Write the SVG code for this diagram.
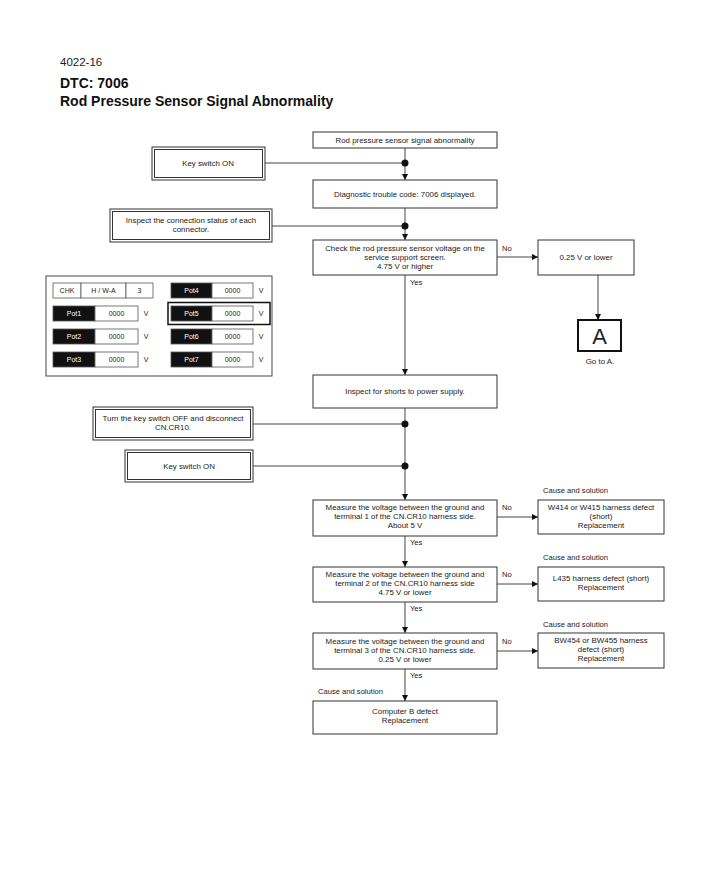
<svg xmlns="http://www.w3.org/2000/svg" width="707" height="871" viewBox="0 0 707 871">
<defs>
<style>
text{font-family:"Liberation Sans",Arial,sans-serif;fill:#222}
.t{font-size:7.9px;text-anchor:middle}
.l{font-size:7.6px}
.h{font-size:11.5px}
.b{font-size:14px;font-weight:bold;fill:#111}
.box{fill:#fff;stroke:#333;stroke-width:1}
.dbl{fill:none;stroke:#333;stroke-width:1}
.ln{fill:none;stroke:#444;stroke-width:1}
.dot{fill:#111}
.blk{fill:#111;stroke:#555;stroke-width:0.8}
.wht{fill:#fff;stroke:#555;stroke-width:0.8}
.tw{font-size:7px;text-anchor:middle;fill:#fff}
.tb{font-size:7px;text-anchor:middle}
</style>
<marker id="ah" viewBox="0 0 10 10" refX="10" refY="5" markerWidth="6" markerHeight="6" orient="auto" markerUnits="userSpaceOnUse">
<path d="M0,0L10,5L0,10z" fill="#111"/>
</marker>
</defs>
<rect width="707" height="871" fill="#fff"/>

<g id="header">
<text class="h" x="60" y="66">4022-16</text>
<text class="b" x="60" y="88">DTC: 7006</text>
<text class="b" x="60" y="106">Rod Pressure Sensor Signal Abnormality</text>
</g>

<g id="connectors">
<line class="ln" x1="405" y1="148" x2="405" y2="180" marker-end="url(#ah)"/>
<line class="ln" x1="265" y1="163" x2="405" y2="163"/>
<circle class="dot" cx="405" cy="163" r="3.5"/>
<line class="ln" x1="405" y1="208" x2="405" y2="240" marker-end="url(#ah)"/>
<line class="ln" x1="272" y1="226" x2="405" y2="226"/>
<circle class="dot" cx="405" cy="226" r="3.5"/>
<line class="ln" x1="497" y1="257" x2="538" y2="257" marker-end="url(#ah)"/>
<line class="ln" x1="598" y1="275" x2="598" y2="320" marker-end="url(#ah)"/>
<line class="ln" x1="405" y1="275" x2="405" y2="375" marker-end="url(#ah)"/>
<line class="ln" x1="405" y1="408" x2="405" y2="500" marker-end="url(#ah)"/>
<line class="ln" x1="253" y1="424" x2="405" y2="424"/>
<circle class="dot" cx="405" cy="424" r="3.5"/>
<line class="ln" x1="253" y1="466" x2="405" y2="466"/>
<circle class="dot" cx="405" cy="466" r="3.5"/>
<line class="ln" x1="497" y1="517" x2="538" y2="517" marker-end="url(#ah)"/>
<line class="ln" x1="405" y1="536" x2="405" y2="567" marker-end="url(#ah)"/>
<line class="ln" x1="497" y1="584" x2="538" y2="584" marker-end="url(#ah)"/>
<line class="ln" x1="405" y1="602" x2="405" y2="633" marker-end="url(#ah)"/>
<line class="ln" x1="497" y1="651" x2="538" y2="651" marker-end="url(#ah)"/>
<line class="ln" x1="405" y1="669" x2="405" y2="701" marker-end="url(#ah)"/>
<text class="l" x="502" y="251">No</text>
<text class="l" x="410" y="285">Yes</text>
<text class="l" x="502" y="510">No</text>
<text class="l" x="410" y="545">Yes</text>
<text class="l" x="502" y="577">No</text>
<text class="l" x="410" y="611">Yes</text>
<text class="l" x="502" y="644">No</text>
<text class="l" x="410" y="678">Yes</text>
</g>

<g id="n1"><rect class="box" x="313" y="132" width="184" height="16"/>
<text class="t" x="405" y="143">Rod pressure sensor signal abnormality</text></g>

<g id="n_key1"><rect class="dbl" x="152" y="147" width="113" height="33"/><rect class="dbl" x="154.5" y="149.5" width="108" height="28"/>
<text class="t" x="208" y="166">Key switch ON</text></g>

<g id="n2"><rect class="box" x="313" y="180" width="184" height="28"/>
<text class="t" x="405" y="197">Diagnostic trouble code: 7006 displayed.</text></g>

<g id="n_insp"><rect class="dbl" x="110" y="209" width="162" height="33"/><rect class="dbl" x="112.5" y="211.5" width="157" height="28"/>
<text class="t" x="191" y="223">Inspect the connection status of each</text>
<text class="t" x="191" y="232">connector.</text></g>

<g id="n3"><rect class="box" x="313" y="240" width="184" height="35"/>
<text class="t" x="405" y="250.5">Check the rod pressure sensor voltage on the</text>
<text class="t" x="405" y="259.5">service support screen.</text>
<text class="t" x="405" y="268.5">4.75 V or higher</text></g>

<g id="n_low"><rect class="box" x="538" y="240" width="96" height="35"/>
<text class="t" x="586" y="260">0.25 V or lower</text></g>

<g id="n_A"><rect x="578" y="320" width="43" height="31" fill="#fff" stroke="#111" stroke-width="2"/>
<text x="599.5" y="344" font-size="22" text-anchor="middle">A</text>
<text class="t" x="600" y="364">Go to A.</text></g>

<g id="monitor">
<rect x="46" y="276" width="226" height="100" fill="#fff" stroke="#444" stroke-width="1"/>
<rect class="wht" x="53" y="283" width="28" height="15"/><text class="tb" x="67" y="293">CHK</text>
<rect class="wht" x="81" y="283" width="45" height="15"/><text class="tb" x="103.5" y="293">H / W-A</text>
<rect class="wht" x="126" y="283" width="27" height="15"/><text class="tb" x="139.5" y="293">3</text>
<rect class="blk" x="171" y="283" width="41" height="15"/><rect class="wht" x="212" y="283" width="41" height="15"/>
<text class="tw" x="191.5" y="293">Pot4</text><text class="tb" x="232.5" y="293">0000</text><text class="tb" x="261" y="293">V</text>
<rect class="blk" x="53" y="306" width="42" height="15"/><rect class="wht" x="95" y="306" width="43" height="15"/>
<text class="tw" x="74" y="316">Pot1</text><text class="tb" x="116.5" y="316">0000</text><text class="tb" x="146" y="316">V</text>
<rect x="168" y="302.5" width="102" height="22" fill="none" stroke="#111" stroke-width="1.5"/>
<rect class="blk" x="171" y="306" width="41" height="15"/><rect class="wht" x="212" y="306" width="41" height="15"/>
<text class="tw" x="191.5" y="316">Pot5</text><text class="tb" x="232.5" y="316">0000</text><text class="tb" x="261" y="316">V</text>
<rect class="blk" x="53" y="329" width="42" height="15"/><rect class="wht" x="95" y="329" width="43" height="15"/>
<text class="tw" x="74" y="339">Pot2</text><text class="tb" x="116.5" y="339">0000</text><text class="tb" x="146" y="339">V</text>
<rect class="blk" x="171" y="329" width="41" height="15"/><rect class="wht" x="212" y="329" width="41" height="15"/>
<text class="tw" x="191.5" y="339">Pot6</text><text class="tb" x="232.5" y="339">0000</text><text class="tb" x="261" y="339">V</text>
<rect class="blk" x="53" y="352" width="42" height="15"/><rect class="wht" x="95" y="352" width="43" height="15"/>
<text class="tw" x="74" y="362">Pot3</text><text class="tb" x="116.5" y="362">0000</text><text class="tb" x="146" y="362">V</text>
<rect class="blk" x="171" y="352" width="41" height="15"/><rect class="wht" x="212" y="352" width="41" height="15"/>
<text class="tw" x="191.5" y="362">Pot7</text><text class="tb" x="232.5" y="362">0000</text><text class="tb" x="261" y="362">V</text>
</g>

<g id="n4"><rect class="box" x="313" y="375" width="184" height="33"/>
<text class="t" x="405" y="394">Inspect for shorts to power supply.</text></g>

<g id="n_off"><rect class="dbl" x="93" y="407" width="160" height="33"/><rect class="dbl" x="95.5" y="409.5" width="155" height="28"/>
<text class="t" x="173" y="421">Turn the key switch OFF and disconnect</text>
<text class="t" x="173" y="430">CN.CR10.</text></g>

<g id="n_key2"><rect class="dbl" x="125" y="450" width="128" height="32"/><rect class="dbl" x="127.5" y="452.5" width="123" height="27"/>
<text class="t" x="189" y="469">Key switch ON</text></g>

<g id="n5"><rect class="box" x="313" y="500" width="184" height="36"/>
<text class="t" x="405" y="510">Measure the voltage between the ground and</text>
<text class="t" x="405" y="519">terminal 1 of the CN.CR10 harness side.</text>
<text class="t" x="405" y="528">About 5 V</text></g>

<g id="c1"><text class="l" x="543" y="493">Cause and solution</text>
<rect class="box" x="538" y="500" width="126" height="34"/>
<text class="t" x="601" y="510">W414 or W415 harness defect</text>
<text class="t" x="601" y="519">(short)</text>
<text class="t" x="601" y="528">Replacement</text></g>

<g id="n6"><rect class="box" x="313" y="567" width="184" height="35"/>
<text class="t" x="405" y="577">Measure the voltage between the ground and</text>
<text class="t" x="405" y="586">terminal 2 of the CN.CR10 harness side</text>
<text class="t" x="405" y="595">4.75 V or lower</text></g>

<g id="c2"><text class="l" x="543" y="560">Cause and solution</text>
<rect class="box" x="538" y="567" width="126" height="34"/>
<text class="t" x="601" y="581">L435 harness defect (short)</text>
<text class="t" x="601" y="590">Replacement</text></g>

<g id="n7"><rect class="box" x="313" y="633" width="184" height="36"/>
<text class="t" x="405" y="644">Measure the voltage between the ground and</text>
<text class="t" x="405" y="653">terminal 3 of the CN.CR10 harness side.</text>
<text class="t" x="405" y="662">0.25 V or lower</text></g>

<g id="c3"><text class="l" x="543" y="627">Cause and solution</text>
<rect class="box" x="538" y="633" width="126" height="35"/>
<text class="t" x="601" y="643">BW454 or BW455 harness</text>
<text class="t" x="601" y="652">defect (short)</text>
<text class="t" x="601" y="661">Replacement</text></g>

<g id="c4"><text class="l" x="318" y="694">Cause and solution</text>
<rect class="box" x="313" y="701" width="184" height="33"/>
<text class="t" x="405" y="714">Computer B defect</text>
<text class="t" x="405" y="723">Replacement</text></g>
</svg>
